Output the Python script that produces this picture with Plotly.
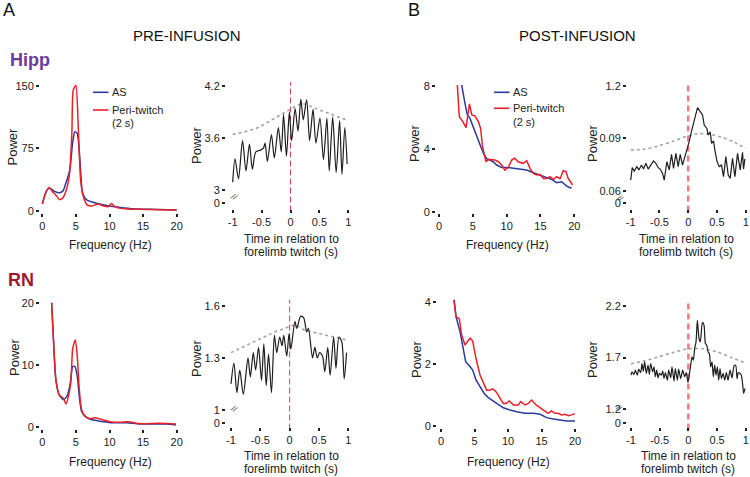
import plotly.graph_objects as go

W, H = 750, 477

# ------------------------------------------------------------------ data
# Hipp, pre-infusion power spectra
hipp_pre_as_freq = [0, 0.5, 1.0, 1.4, 1.9, 2.6, 3.1, 3.5, 4.1, 4.5, 4.85, 5.2, 5.6, 6.0, 6.6, 8.1, 10.0, 11.6, 13.5, 16.0, 20.0]
hipp_pre_as_pow = [8, 21.7, 27, 25.7, 23, 21.7, 24, 33, 49, 81, 95, 93, 61, 21, 13, 9, 5.6, 4, 2.4, 1.6, 0.8]
hipp_pre_tw_freq = [0, 0.65, 1.05, 1.5, 2.0, 2.5, 3.0, 3.5, 4.0, 4.4, 4.6, 5.0, 5.35, 5.7, 6.1, 6.7, 7.3, 8.3, 9.1, 9.8, 10.3, 10.8, 11.6, 12.6, 14.5, 17.5, 20.0]
hipp_pre_tw_pow = [8, 24, 28, 23, 19, 13.6, 14.8, 23, 41, 93, 145, 151, 101, 37, 17, 6.8, 5.6, 8, 5.6, 4.8, 8.8, 4.8, 2.8, 2, 1.6, 1.2, 0.8]

# Hipp, pre-infusion power around twitch
hipp_pre_time = [-1.0, -0.96, -0.90, -0.83, -0.77, -0.71, -0.66, -0.60, -0.52, -0.47, -0.44, -0.40, -0.33, -0.28, -0.21, -0.16, -0.12, -0.07, -0.02, 0.02, 0.08, 0.13, 0.18, 0.22, 0.28, 0.33, 0.39, 0.44, 0.51, 0.57, 0.63, 0.67, 0.73, 0.79, 0.85, 0.89, 0.94, 0.98]
hipp_pre_power = [3.09, 3.36, 3.13, 3.57, 3.22, 3.53, 3.24, 3.44, 3.46, 3.48, 3.54, 3.33, 3.64, 3.37, 3.72, 3.44, 3.87, 3.39, 3.90, 3.57, 3.94, 3.68, 4.05, 3.81, 4.04, 3.57, 3.93, 3.54, 3.83, 3.35, 3.83, 3.22, 3.84, 3.20, 3.80, 3.18, 3.72, 3.30]
hipp_pre_shuf_time = [-1.0, -0.8, -0.6, -0.5, -0.4, -0.2, 0.0, 0.1, 0.2, 0.3, 0.4, 0.6, 0.8, 1.0]
hipp_pre_shuf_power = [3.64, 3.67, 3.71, 3.74, 3.78, 3.86, 3.93, 3.97, 4.0, 3.98, 3.95, 3.90, 3.85, 3.80]

# RN, pre-infusion power spectra
rn_pre_as_freq = [1.39, 1.64, 2.03, 2.53, 3.13, 3.62, 4.12, 4.52, 4.86, 5.21, 5.51, 5.86, 6.35, 7.1, 8.1, 9.1, 10.07, 11.56, 12.56, 14.5, 16.5, 18.5, 19.9]
rn_pre_as_pow = [20, 14.5, 7.5, 5.1, 4.4, 4.8, 6.7, 9.7, 9.7, 8.1, 4.8, 2.4, 1.7, 1.2, 1.0, 0.8, 0.65, 0.65, 0.65, 0.43, 0.43, 0.43, 0.27]
rn_pre_tw_freq = [1.39, 1.64, 2.03, 2.53, 3.13, 3.52, 3.87, 4.27, 4.52, 4.91, 5.21, 5.51, 5.86, 6.35, 7.1, 7.84, 8.6, 10.07, 11.56, 12.8, 14.5, 17.5, 19.9]
rn_pre_tw_pow = [20, 14.5, 7.5, 5.1, 4.6, 3.66, 4.8, 7.5, 12.6, 14.0, 11.3, 5.9, 2.7, 1.7, 1.3, 1.45, 1.24, 0.8, 0.7, 0.8, 0.5, 0.54, 0.43]

# RN, pre-infusion power around twitch
rn_pre_time = [-1.0, -0.95, -0.90, -0.85, -0.79, -0.71, -0.67, -0.62, -0.58, -0.53, -0.48, -0.44, -0.40, -0.36, -0.31, -0.26, -0.22, -0.17, -0.13, -0.10, -0.05, -0.01, 0.02, 0.09, 0.12, 0.19, 0.24, 0.29, 0.32, 0.39, 0.43, 0.47, 0.51, 0.56, 0.60, 0.65, 0.69, 0.75, 0.79, 0.84, 0.89, 0.93, 0.97]
rn_pre_power = [1.15, 1.27, 1.10, 1.23, 1.09, 1.30, 1.19, 1.33, 1.23, 1.36, 1.17, 1.38, 1.14, 1.32, 1.10, 1.43, 1.33, 1.42, 1.37, 1.43, 1.31, 1.44, 1.35, 1.51, 1.47, 1.54, 1.53, 1.45, 1.47, 1.30, 1.36, 1.30, 1.33, 1.31, 1.22, 1.36, 1.20, 1.42, 1.24, 1.42, 1.39, 1.18, 1.33]
rn_pre_shuf_time = [-1.0, -0.75, -0.5, -0.25, 0.0, 0.1, 0.25, 0.5, 0.75, 1.0]
rn_pre_shuf_power = [1.33, 1.37, 1.41, 1.45, 1.48, 1.49, 1.46, 1.44, 1.42, 1.40]

# Hipp, post-infusion power spectra
hipp_post_as_freq = [3.0, 3.35, 3.84, 4.19, 4.58, 5.07, 5.57, 6.06, 6.55, 7.04, 7.54, 8.03, 8.52, 9.26, 10.0, 11.0, 11.97, 12.96, 13.94, 14.93, 15.91, 16.65, 17.39, 18.13, 18.87, 19.6]
hipp_post_as_pow = [10.0, 8.07, 6.9, 6.16, 5.94, 5.41, 4.78, 4.25, 3.72, 3.38, 3.29, 3.18, 2.97, 2.82, 2.82, 2.76, 2.70, 2.65, 2.48, 2.34, 2.17, 2.06, 1.85, 1.91, 1.63, 1.49]
hipp_post_tw_freq = [2.6, 2.71, 3.0, 3.5, 4.0, 4.5, 4.85, 5.3, 5.8, 6.15, 6.45, 6.95, 7.29, 7.78, 8.28, 8.77, 9.26, 9.75, 10.25, 10.74, 11.2, 11.7, 12.46, 12.96, 13.45, 13.94, 14.43, 14.93, 15.42, 15.91, 16.4, 16.9, 17.39, 17.9, 18.37, 18.77, 19.1, 19.75]
hipp_post_tw_pow = [10.0, 8.07, 6.05, 5.75, 5.35, 6.86, 6.16, 6.1, 5.75, 5.3, 4.1, 3.18, 3.33, 3.29, 3.29, 3.18, 2.97, 2.65, 2.82, 3.29, 3.40, 3.18, 3.08, 3.25, 2.76, 2.44, 2.34, 2.38, 2.12, 2.12, 2.23, 2.06, 2.23, 2.1, 2.61, 2.55, 2.12, 1.70]

# Hipp, post-infusion power around twitch
hipp_post_time = [-1.0, -0.974, -0.939, -0.893, -0.858, -0.812, -0.777, -0.736, -0.696, -0.649, -0.603, -0.562, -0.522, -0.487, -0.446, -0.417, -0.371, -0.330, -0.290, -0.255, -0.214, -0.174, -0.139, -0.099, -0.058, -0.023, 0.017, 0.058, 0.104, 0.162, 0.209, 0.249, 0.278, 0.325, 0.348, 0.383, 0.406, 0.441, 0.464, 0.499, 0.539, 0.580, 0.614, 0.655, 0.696, 0.730, 0.771, 0.812, 0.858, 0.904, 0.945, 0.962, 0.986]
hipp_post_power = [0.0661, 0.0732, 0.0713, 0.0738, 0.0719, 0.0747, 0.0724, 0.0757, 0.0724, 0.0751, 0.0770, 0.0757, 0.0732, 0.0724, 0.0699, 0.0661, 0.0766, 0.0719, 0.0808, 0.0728, 0.0814, 0.0738, 0.0808, 0.0747, 0.0795, 0.0824, 0.0881, 0.0942, 0.0996, 0.1076, 0.1053, 0.1034, 0.0976, 0.0957, 0.0919, 0.0938, 0.0871, 0.0885, 0.0833, 0.0770, 0.0738, 0.0747, 0.0680, 0.0795, 0.0690, 0.0671, 0.0785, 0.0680, 0.0814, 0.0719, 0.0820, 0.0724, 0.0782]
hipp_post_shuf_time = [-1.0, -0.75, -0.5, -0.25, 0.0, 0.2, 0.4, 0.6, 0.8, 1.0]
hipp_post_shuf_power = [0.0833, 0.0838, 0.0858, 0.0885, 0.0915, 0.0928, 0.0922, 0.0905, 0.0878, 0.0843]

# RN, post-infusion power spectra
rn_post_as_freq = [1.94, 2.24, 2.84, 3.33, 3.68, 4.23, 4.73, 5.22, 5.82, 6.42, 7.06, 7.81, 8.56, 9.3, 10.3, 11.29, 12.54, 13.78, 14.78, 15.77, 16.77, 17.76, 18.76, 20.0]
rn_post_as_pow = [4.08, 3.54, 3.05, 2.46, 2.08, 1.95, 1.81, 1.49, 1.27, 1.06, 0.92, 0.81, 0.70, 0.59, 0.52, 0.46, 0.41, 0.41, 0.38, 0.27, 0.23, 0.19, 0.16, 0.16]
rn_post_tw_freq = [1.94, 2.24, 2.74, 3.08, 3.58, 3.93, 4.33, 4.73, 5.22, 5.82, 6.42, 6.82, 7.21, 7.71, 8.21, 8.81, 9.3, 9.7, 10.2, 10.8, 11.54, 11.9, 12.54, 13.03, 13.53, 14.18, 14.78, 15.52, 16.0, 16.5, 17.0, 17.5, 18.0, 18.5, 19.0, 19.5, 20.0]
rn_post_tw_pow = [4.08, 3.54, 3.46, 2.94, 2.62, 2.73, 2.84, 2.75, 2.19, 1.65, 1.33, 1.16, 1.16, 1.20, 1.11, 0.89, 0.73, 0.73, 0.81, 0.68, 0.68, 0.79, 0.68, 0.73, 0.84, 0.68, 0.59, 0.46, 0.41, 0.49, 0.41, 0.41, 0.36, 0.38, 0.33, 0.36, 0.40]

# RN, post-infusion power around twitch
rn_post_time = [-1.0, -0.983, -0.948, -0.924, -0.890, -0.866, -0.831, -0.808, -0.785, -0.762, -0.733, -0.703, -0.680, -0.657, -0.622, -0.599, -0.576, -0.552, -0.529, -0.506, -0.471, -0.448, -0.424, -0.401, -0.366, -0.343, -0.308, -0.285, -0.250, -0.227, -0.192, -0.169, -0.134, -0.099, -0.064, -0.035, -0.006, 0.017, 0.041, 0.064, 0.087, 0.110, 0.134, 0.157, 0.186, 0.209, 0.244, 0.273, 0.297, 0.320, 0.343, 0.366, 0.390, 0.413, 0.436, 0.459, 0.483, 0.506, 0.529, 0.552, 0.576, 0.605, 0.634, 0.663, 0.692, 0.727, 0.762, 0.797, 0.826, 0.849, 0.872, 0.901, 0.924, 0.948, 0.965, 0.988]
rn_post_power = [1.530, 1.562, 1.536, 1.578, 1.530, 1.587, 1.555, 1.642, 1.568, 1.658, 1.546, 1.626, 1.536, 1.642, 1.562, 1.610, 1.514, 1.578, 1.504, 1.546, 1.530, 1.568, 1.497, 1.555, 1.481, 1.578, 1.504, 1.610, 1.472, 1.594, 1.481, 1.587, 1.497, 1.578, 1.514, 1.555, 1.459, 1.536, 1.626, 1.706, 1.674, 1.787, 1.851, 2.060, 1.883, 1.851, 2.038, 2.012, 1.835, 1.819, 1.755, 1.739, 1.610, 1.658, 1.514, 1.626, 1.530, 1.610, 1.481, 1.594, 1.497, 1.546, 1.481, 1.555, 1.481, 1.578, 1.504, 1.620, 1.626, 1.497, 1.555, 1.546, 1.530, 1.433, 1.353, 1.401]
rn_post_shuf_time = [-1.0, -0.75, -0.5, -0.25, 0.0, 0.25, 0.5, 0.75, 1.0]
rn_post_shuf_power = [1.64, 1.67, 1.71, 1.75, 1.785, 1.785, 1.755, 1.70, 1.645]

# tick labels
freq_ticks = [0, 5, 10, 15, 20]
time_ticks = [-1, -0.5, 0, 0.5, 1]
time_tick_text = ["-1", "-0.5", "0", "0.5", "1"]
hipp_pre_psd_yticks = [0, 75, 150]
rn_pre_psd_yticks = [0, 10, 20]
hipp_post_psd_yticks = [0, 4, 8]
rn_post_psd_yticks = [0, 2, 4]
hipp_pre_t_yticks = [3, 3.6, 4.2]
hipp_pre_t_ytext = ["3", "3.6", "4.2"]
rn_pre_t_yticks = [1, 1.3, 1.6]
rn_pre_t_ytext = ["1", "1.3", "1.6"]
hipp_post_t_yticks = [0.06, 0.09, 0.12]
hipp_post_t_ytext = ["0.06", "0.09", "1.2"]
rn_post_t_yticks = [1.2, 1.7, 2.2]
rn_post_t_ytext = ["1.2", "1.7", "2.2"]

# ------------------------------------------------------------------ styles
FONT = "Liberation Sans, Arial, sans-serif"
BLUE = "#2a3a9e"
RED = "#ec2028"
BLACK = "#1e1e1e"
GRAY = "#a3a3a3"


def px_range(ref, lo_px, hi_px):
    (v0, p0), (v1, p1) = ref
    s = (p1 - p0) / (v1 - v0)
    return [v0 + (lo_px - p0) / s, v0 + (hi_px - p0) / s]


def px_value(ref, p):
    (v0, p0), (v1, p1) = ref
    s = (p1 - p0) / (v1 - v0)
    return v0 + (p - p0) / s


# panel boxes in pixels: (left, right, top, bottom), and axis pixel references
panels = [
    dict(box=(40, 180, 84, 213), xref=((0, 42.3), (20, 176.7)), yref=((0, 210.7), (150, 86)),
         xt=freq_ticks, xtt=[str(v) for v in freq_ticks], yt=hipp_pre_psd_yticks, ytt=[str(v) for v in hipp_pre_psd_yticks]),
    dict(box=(226, 352, 82, 209), xref=((-1, 232.7), (1, 348.3)), yref=((3, 190), (4.2, 86)),
         xt=time_ticks, xtt=time_tick_text, yt=hipp_pre_t_yticks, ytt=hipp_pre_t_ytext, zero_px=202.7, brk=(227.5, 197)),
    dict(box=(436, 578, 85, 213), xref=((0, 439), (20, 574.3)), yref=((0, 211.7), (8, 86)),
         xt=freq_ticks, xtt=[str(v) for v in freq_ticks], yt=hipp_post_psd_yticks, ytt=[str(v) for v in hipp_post_psd_yticks]),
    dict(box=(627, 749, 82, 209), xref=((-1, 630.7), (1, 745.7)), yref=((0.06, 190.7), (0.12, 86)),
         xt=time_ticks, xtt=time_tick_text, yt=hipp_post_t_yticks, ytt=hipp_post_t_ytext, zero_px=203.3, brk=(627.5, 198)),
    dict(box=(40, 180, 299, 429), xref=((0, 42.3), (20, 176.7)), yref=((0, 426.7), (20, 302.7)),
         xt=freq_ticks, xtt=[str(v) for v in freq_ticks], yt=rn_pre_psd_yticks, ytt=[str(v) for v in rn_pre_psd_yticks]),
    dict(box=(226, 352, 300, 427), xref=((-1, 231), (1, 348.3)), yref=((1, 410), (1.6, 305.7)),
         xt=time_ticks, xtt=time_tick_text, yt=rn_pre_t_yticks, ytt=rn_pre_t_ytext, zero_px=422.7, brk=(227.5, 417)),
    dict(box=(437, 579, 298, 428), xref=((0, 441), (20, 575)), yref=((0, 426), (4, 302.3)),
         xt=freq_ticks, xtt=[str(v) for v in freq_ticks], yt=rn_post_psd_yticks, ytt=[str(v) for v in rn_post_psd_yticks]),
    dict(box=(627, 749, 300, 427), xref=((-1, 631), (1, 745.7)), yref=((1.2, 409.3), (2.2, 305.7)),
         xt=time_ticks, xtt=time_tick_text, yt=rn_post_t_yticks, ytt=rn_post_t_ytext, zero_px=423.3, brk=(627, 416)),
]

fig = go.Figure()
layout = dict(width=W, height=H, autosize=False, margin=dict(l=0, r=0, t=0, b=0),
              paper_bgcolor="white", plot_bgcolor="white", showlegend=False,
              font=dict(family=FONT, color="#222", size=11))
shapes = []
annotations = []

for i, p in enumerate(panels, start=1):
    L, R, T, B = p["box"]
    yt = list(p["yt"])
    ytt = list(p["ytt"])
    if "zero_px" in p:
        yt = [px_value(p["yref"], p["zero_px"])] + yt
        ytt = ["0"] + ytt
    sfx = "" if i == 1 else str(i)
    common = dict(showgrid=False, zeroline=False, showline=False, ticks="outside", ticklen=3,
                  tickwidth=1.5, tickcolor="#222", tickfont=dict(size=11, family=FONT, color="#222"),
                  fixedrange=True, automargin=False)
    layout["xaxis" + sfx] = dict(domain=[L / W, R / W], range=px_range(p["xref"], L, R),
                                 anchor="y" + sfx, tickvals=p["xt"], ticktext=p["xtt"], **common)
    layout["yaxis" + sfx] = dict(domain=[1 - B / H, 1 - T / H], range=px_range(p["yref"], B, T),
                                 anchor="x" + sfx, tickvals=yt, ticktext=ytt, **common)
    if "brk" in p:
        bx, by = p["brk"]
        annotations.append(dict(text="//", x=bx / W, y=1 - by / H, xref="paper", yref="paper",
                                showarrow=False, textangle=35, font=dict(size=8, family=FONT, color="#333")))
        post = i in (4, 8)
        shapes.append(dict(type="line", xref="x" + sfx, yref="y" + sfx + " domain", x0=0, x1=0, y0=-0.02, y1=1.0,
                           line=dict(color="#f27a82" if post else "#d3405f", width=2.5 if post else 1,
                                     dash="6px,4px" if post else "6px,3px"), layer="below"))


def add(x, y, panel, color, width, dash=None, shape="spline", smoothing=0.6):
    sfx = "" if panel == 1 else str(panel)
    ln = dict(color=color, width=width, shape=shape)
    if shape == "spline":
        ln["smoothing"] = smoothing
    if dash:
        ln["dash"] = dash
    fig.add_trace(go.Scatter(x=x, y=y, xaxis="x" + sfx, yaxis="y" + sfx, mode="lines", line=ln,
                             hoverinfo="skip", cliponaxis=True))


# Hipp pre
add(hipp_pre_as_freq, hipp_pre_as_pow, 1, BLUE, 1.5)
add(hipp_pre_tw_freq, hipp_pre_tw_pow, 1, RED, 1.5)
add(hipp_pre_shuf_time, hipp_pre_shuf_power, 2, GRAY, 1.6, dash="dot", shape="linear")
add(hipp_pre_time, hipp_pre_power, 2, BLACK, 1.2, smoothing=0.8)
# Hipp post
add(hipp_post_as_freq, hipp_post_as_pow, 3, BLUE, 1.5, shape="linear")
add(hipp_post_tw_freq, hipp_post_tw_pow, 3, RED, 1.5, shape="linear")
add(hipp_post_shuf_time, hipp_post_shuf_power, 4, GRAY, 1.6, dash="dot")
add(hipp_post_time, hipp_post_power, 4, BLACK, 1.2, shape="linear")
# RN pre
add(rn_pre_as_freq, rn_pre_as_pow, 5, BLUE, 1.5)
add(rn_pre_tw_freq, rn_pre_tw_pow, 5, RED, 1.5)
add(rn_pre_shuf_time, rn_pre_shuf_power, 6, GRAY, 1.6, dash="dot", shape="linear")
add(rn_pre_time, rn_pre_power, 6, BLACK, 1.2, smoothing=0.8)
# RN post
add(rn_post_as_freq, rn_post_as_pow, 7, BLUE, 1.5, shape="linear")
add(rn_post_tw_freq, rn_post_tw_pow, 7, RED, 1.5, shape="linear")
add(rn_post_shuf_time, rn_post_shuf_power, 8, GRAY, 1.6, dash="dot")
add(rn_post_time, rn_post_power, 8, BLACK, 1.2, smoothing=0.6)


def txt(text, x, y, size, color="#222", bold=False, angle=0, xanchor="center"):
    annotations.append(dict(text=("<b>%s</b>" % text) if bold else text, x=x / W, y=1 - y / H,
                            xref="paper", yref="paper", showarrow=False, textangle=angle,
                            xanchor=xanchor, yanchor="middle",
                            font=dict(size=size, color=color, family=FONT)))


txt("A", 9, 10, 18, "#111")
txt("B", 414, 10, 18, "#111")
txt("PRE-INFUSION", 187, 35, 15, "#111")
txt("POST-INFUSION", 577, 35, 15, "#111")
txt("Hipp", 30, 60, 18, "#6a3b9c", bold=True)
txt("RN", 21, 280, 18, "#a3172b", bold=True)
for (x, y) in [(12.5, 147), (196, 145), (414, 143), (592, 143), (14, 357), (196, 358), (416, 359), (592, 359)]:
    txt("Power", x, y, 13, angle=-90)
for (x, y) in [(110, 245), (507, 245), (110, 462), (508, 462)]:
    txt("Frequency (Hz)", x, y, 12)
for (x, y) in [(291, 238.5), (686, 238.5), (291, 455.5), (688, 455.5)]:
    txt("Time in relation to", x, y, 12)
    txt("forelimb twitch (s)", x, y + 13.5, 12)

# legends
for (lx, yb, yr, y2) in [(93, 92.3, 110, 122.7), (494, 92.3, 108.3, 121.7)]:
    shapes.append(dict(type="line", xref="paper", yref="paper", x0=lx / W, x1=(lx + 15.5) / W,
                       y0=1 - yb / H, y1=1 - yb / H, line=dict(color=BLUE, width=1.6)))
    shapes.append(dict(type="line", xref="paper", yref="paper", x0=lx / W, x1=(lx + 15.5) / W,
                       y0=1 - yr / H, y1=1 - yr / H, line=dict(color=RED, width=1.6)))
    txt("AS", lx + 17, yb, 11, xanchor="left")
    txt("Peri-twitch", lx + 17, yr, 11, xanchor="left")
    txt("(2 s)", lx + 17, y2, 11, xanchor="left")

layout["shapes"] = shapes
layout["annotations"] = annotations
fig.update_layout(**layout)
fig.write_html("out.html", config={"displayModeBar": False},
               post_script="document.body.style.margin='0';document.body.style.overflow='hidden';")
